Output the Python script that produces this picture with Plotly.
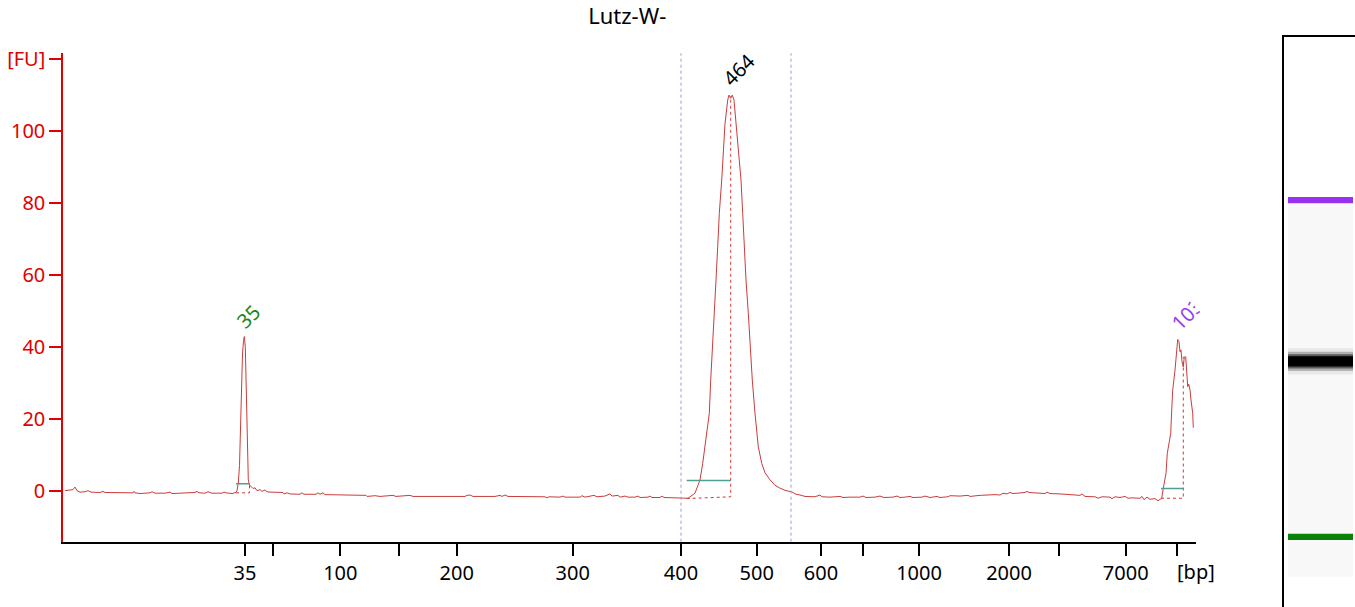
import plotly.graph_objects as go

# ---------------- data ----------------
title_text = "Lutz-W-"

# migration time (arbitrary seconds) and fluorescence [FU]
time_s = [
    16.5, 17.0, 17.3, 17.5, 17.7, 18.0, 18.5, 18.8, 19.1, 20.0, 20.3, 20.5, 21.5, 23.3, 23.4, 23.5,
    24.0, 25.0, 25.2, 25.5, 26.5, 27.0, 27.2, 28.0, 29.5, 29.7, 29.9, 30.5, 30.8, 31.2, 32.2, 32.4,
    32.6, 33.2, 33.6, 33.7,
    33.83, 33.95, 34.05, 34.15, 34.25, 34.35, 34.43, 34.53, 34.62, 34.68, 34.75, 34.83, 34.95, 35.1,
    35.3, 35.5, 35.7, 36.0, 36.2, 36.5, 36.7, 37.0,
    37.5, 38.3, 38.4, 38.7, 39.0, 40.0, 40.2, 40.4, 41.6, 41.8, 42.0, 42.3, 42.5, 44.0, 45.5, 46.6,
    46.7, 47.5, 48.0, 49.0, 49.3, 49.6, 50.5, 51.0, 51.3, 52.0, 55.0, 56.5, 56.7, 57.0, 57.3, 59.5,
    60.0, 60.2, 60.5, 60.8, 64.5, 64.7, 64.9, 66.0, 66.3, 66.5, 68.0, 68.2, 68.5, 69.0, 69.4, 69.7,
    70.5, 71.0, 71.2, 71.8, 72.0, 72.5, 72.8, 73.5, 73.8, 74.0, 74.8, 75.0, 75.2, 76.0, 76.2, 76.4,
    77.2, 78.0, 78.8,
    79.5, 80.0, 80.27, 80.5, 80.93, 81.07, 81.27, 81.43, 81.6, 81.77, 81.93, 82.17, 82.33, 82.5,
    82.77, 82.9, 83.07, 83.23, 83.4, 83.6, 83.83, 84.1, 84.27, 84.4, 84.6, 84.83, 85.0, 85.23, 85.5,
    85.83, 86.17, 86.5, 87.0, 87.5, 88.0, 88.6, 89.17, 89.6, 90.0,
    90.5, 91.5, 92.0, 92.2, 93.0, 94.0, 94.3, 95.0, 96.0, 96.3, 96.6, 97.5, 98.0, 98.4, 99.3, 99.7,
    100.0, 100.5, 101.0, 101.3, 102.2, 102.5, 103.0, 103.7, 104.0, 104.8, 105.0, 106.0, 106.8, 107.0,
    108.0, 109.5, 110.0, 110.3, 110.7, 111.0, 111.3, 112.5, 112.7, 112.9, 114.0, 114.5, 114.7, 115.0,
    116.0, 117.5, 118.0, 118.2, 118.5, 119.5, 119.8, 120.2, 121.0, 121.2, 121.5, 122.0, 122.5, 122.8,
    123.2, 124.0, 124.2, 124.4, 124.7, 125.0, 125.5, 125.8, 126.0, 126.17,
    126.33, 126.6, 126.73, 126.93, 127.07, 127.17, 127.27, 127.5, 127.67, 127.77, 127.9, 128.0, 128.1,
    128.2, 128.33, 128.43, 128.57, 128.67, 128.77, 128.87, 129.0, 129.1, 129.27, 129.33,
]
fluor = [
    0.0, 0.2, 0.3, 1.0, 0.0, -0.4, -0.3, 0.0, -0.4, -0.5, -0.2, -0.5, -0.5, -0.6, -0.2, -0.6,
    -0.8, -0.6, -0.3, -0.7, -0.7, -0.4, -0.8, -0.7, -0.5, -0.2, -0.6, -0.7, -0.3, -0.7, -0.7, -0.4,
    -0.6, -0.8, -0.5, 0.0,
    2.1, 7.0, 20.0, 30.0, 38.0, 41.5, 42.8, 40.0, 30.0, 20.0, 11.0, 3.0, 1.6, 1.2,
    0.6, 0.8, 0.0, 0.3, -0.2, 0.2, -0.3, -0.4,
    -0.5, -0.5, -0.9, -0.6, -0.9, -1.0, -0.6, -1.0, -1.0, -0.6, -1.0, -0.6, -1.1, -1.2, -1.3, -1.3,
    -1.6, -1.4, -1.6, -1.5, -1.3, -1.6, -1.5, -1.3, -1.6, -1.6, -1.6, -1.6, -1.3, -1.2, -1.6, -1.6,
    -1.3, -1.6, -1.2, -1.6, -1.7, -2.0, -1.7, -1.8, -1.5, -1.8, -1.8, -1.4, -1.8, -1.6, -1.3, -1.7,
    -1.5, -0.9, -1.5, -1.3, -1.8, -1.5, -1.8, -1.8, -1.5, -1.9, -1.8, -1.5, -1.9, -1.9, -1.5, -1.9,
    -2.0, -2.2, -2.1,
    -0.7, 3.0, 7.6, 12.2, 21.5, 30.7, 40.0, 49.3, 58.5, 67.8, 77.0, 86.3, 95.6, 102.0,
    108.5, 109.9, 109.0, 109.9, 108.5, 102.0, 95.6, 86.3, 77.0, 67.8, 58.5, 49.3, 40.0, 30.7, 21.5,
    12.2, 7.6, 5.0, 3.0, 1.5, 0.7, 0.0, -0.3, -1.0, -1.2,
    -1.6, -1.7, -1.2, -1.7, -1.8, -1.6, -1.9, -1.8, -1.8, -1.5, -1.9, -1.8, -1.5, -1.9, -1.8, -1.5,
    -1.9, -1.8, -1.6, -1.9, -1.8, -1.5, -1.9, -1.6, -1.9, -1.7, -1.4, -1.5, -1.3, -1.6,
    -1.3, -1.1, -1.2, -0.7, -0.9, -0.5, -0.8, -0.5, -0.2, -0.5, -0.6, -0.8, -0.4, -0.8,
    -0.9, -1.1, -1.3, -0.9, -1.6, -1.7, -2.1, -1.7, -1.8, -2.2, -1.7, -1.9, -1.6, -2.1,
    -2.0, -2.1, -1.6, -2.5, -1.8, -2.4, -2.2, -2.8, -2.5, -2.1,
    0.7, 4.8, 10.4, 14.1, 15.9, 22.4, 28.0, 33.5, 38.2, 42.0, 41.4, 38.6, 39.1,
    35.8, 34.4, 37.1, 37.2, 31.7, 28.9, 29.6, 28.0, 25.2, 21.5, 17.5,
]

# size ladder ticks (position on time axis -> bp label)
x_tick_vals = [34.5, 37.27, 44.03, 49.87, 55.67, 67.27, 78.1, 85.67, 92.1, 96.33,
               101.9, 110.9, 115.9, 122.57, 127.7]
x_tick_text = ["35", "", "100", "", "200", "300", "400", "500", "600", "",
               "1000", "2000", "", "7000", ""]
y_tick_vals = [0, 20, 40, 60, 80, 100, 120]
y_tick_text = ["0", "20", "40", "60", "80", "100", "[FU]"]

# called peaks
peak_labels = ["35", "464", "10380"]
peak_time = [34.43, 83.07, 127.77]
peak_fu = [42.8, 109.9, 42.0]

# peak integration markers
peak_start = [33.6, 78.67, 126.1]
peak_end = [34.95, 83.07, 128.33]
base_start = [-0.6, -2.2, -2.1]
base_end = [-0.6, -1.7, -2.1]
marker_level = [1.9, 2.8, 0.6]
end_top = [1.6, 109.6, 37.2]

# region of interest
region_bounds = [78.1, 89.1]

# virtual gel lane bands
gel_band_names = ["upper marker", "sample", "lower marker"]
gel_band_pos = [71.4, 43.1, 12.3]

# ---------------- style ----------------
FONT = "Noto Sans"
RED_AXIS = "#e00000"
TRACE = "#cc3b3b"
label_colors = ["#1a8a1a", "#000000", "#9a3cf0"]
label_shift = [(4, 20), (8, 26), (7, 23)]
label_width = [None, None, 28]
gel_band_colors = ["#9932f0", None, "#0a820a"]

fig = go.Figure()

fig.add_trace(go.Scatter(x=time_s, y=fluor, mode="lines",
                         line=dict(color=TRACE, width=1), hoverinfo="skip",
                         showlegend=False))

for i in range(len(peak_labels)):
    fig.add_trace(go.Scatter(
        x=[peak_start[i], peak_end[i], peak_end[i]],
        y=[base_start[i], base_end[i], end_top[i]],
        mode="lines", line=dict(color=TRACE, width=1, dash="dot"),
        hoverinfo="skip", showlegend=False))
    fig.add_trace(go.Scatter(
        x=[peak_start[i], peak_end[i]],
        y=[marker_level[i], marker_level[i]],
        mode="lines", line=dict(color="#4f9f8f", width=1.5),
        hoverinfo="skip", showlegend=False))
    ann = dict(x=peak_time[i], y=peak_fu[i], xref="x", yref="y",
               text=peak_labels[i], showarrow=False, textangle=-45,
               xanchor="center", yanchor="middle",
               xshift=label_shift[i][0], yshift=label_shift[i][1],
               font=dict(family=FONT, size=20, color=label_colors[i]))
    if label_width[i] is not None:
        ann.update(width=label_width[i], align="left")
    fig.add_annotation(**ann)

for xb in region_bounds:
    fig.add_shape(type="line", xref="x", yref="y domain", x0=xb, x1=xb, y0=0, y1=1,
                  line=dict(color="#9a9ad0", width=1, dash="dot"))

fig.add_annotation(x=129.57, y=0.0577, xref="x", yref="paper", text="[bp]",
                   showarrow=False, xanchor="center", yanchor="middle",
                   font=dict(family=FONT, size=20, color="black"))

# gel lane
fig.add_trace(go.Scatter(x=[0], y=[0], xaxis="x2", yaxis="y2", mode="markers",
                         marker=dict(opacity=0), hoverinfo="skip", showlegend=False))
fig.add_shape(type="rect", xref="x2", yref="y2", x0=4, x1=69, y0=5.3, y1=70.5,
              fillcolor="#f8f8f8", line=dict(width=0), layer="below")
for name, pos, col in zip(gel_band_names, gel_band_pos, gel_band_colors):
    if col is not None:
        fig.add_shape(type="rect", xref="x2", yref="y2", x0=4, x1=69,
                      y0=pos - 0.55, y1=pos + 0.55, fillcolor=col, line=dict(width=0))
    else:
        for half, shade in [(2.3, "#e8e8e8"), (1.7, "#b0b0b0"), (1.25, "#5a5a5a"), (0.9, "#000000")]:
            fig.add_shape(type="rect", xref="x2", yref="y2", x0=4, x1=69,
                          y0=pos - half, y1=pos + half, fillcolor=shade, line=dict(width=0))

fig.update_layout(
    width=1355, height=607,
    margin=dict(l=0, r=0, t=0, b=0),
    paper_bgcolor="white", plot_bgcolor="white",
    font=dict(family=FONT, size=20, color="black"),
    title=dict(text=title_text, x=0.4629, y=0.9725, xanchor="center", yanchor="middle",
               xref="paper", yref="paper",
               font=dict(family=FONT, size=22, color="black")),
    xaxis=dict(domain=[0.04672, 0.88244], range=[16.33, 129.57],
               tickmode="array", tickvals=x_tick_vals, ticktext=x_tick_text,
               ticks="outside", ticklen=12, tickwidth=2, tickcolor="black",
               showline=True, linecolor="black", linewidth=2,
               showgrid=False, zeroline=False, automargin=False,
               tickfont=dict(family=FONT, size=20, color="black")),
    yaxis=dict(domain=[0.1076, 0.9122], range=[-14.17, 121.5],
               tickmode="array", tickvals=y_tick_vals, ticktext=y_tick_text,
               ticks="outside", ticklen=12, tickwidth=2, tickcolor=RED_AXIS,
               showline=True, linecolor=RED_AXIS, linewidth=2,
               showgrid=False, zeroline=False, automargin=False,
               tickfont=dict(family=FONT, size=20, color=RED_AXIS)),
    xaxis2=dict(domain=[0.9476, 1.0], range=[0, 71], anchor="y2", side="top",
                showline=True, linecolor="black", linewidth=2, showticklabels=False,
                ticks="", showgrid=False, zeroline=False, automargin=False),
    yaxis2=dict(domain=[0.0, 0.939], range=[0, 100], anchor="x2",
                showline=True, linecolor="black", linewidth=2, showticklabels=False,
                ticks="", showgrid=False, zeroline=False, automargin=False),
)

fig.write_html("out.html", config={"displayModeBar": False},
               post_script="document.body.style.margin='0px';document.body.style.overflow='hidden';")
